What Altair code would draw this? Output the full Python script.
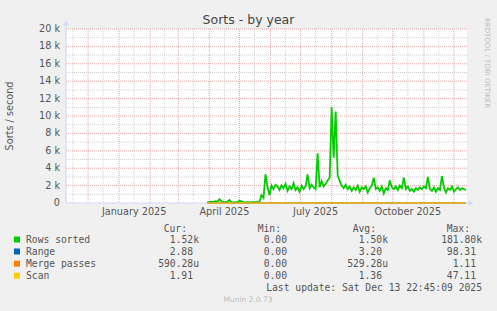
import altair as alt
import pandas as pd

# ---------------- data ----------------
title_text = "Sorts - by year"
y_title = "Sorts / second"
side_text = "RRDTOOL / TOBI OETIKER"
last_update = "Last update: Sat Dec 13 22:45:09 2025"
version_text = "Munin 2.0.73"

rows_start = "2025-03-30"
rows_sorted_k = [
    0.10, 0.12, 0.15, 0.10, 0.20, 0.15, 0.45, 0.20, 0.12, 0.10,
    0.15, 0.35, 0.10, 0.08, 0.10, 0.08, 0.25, 0.20, 0.10, 0.08,
    0.10, 0.08, 0.10, 0.10, 0.10, 0.12, 0.15, 0.90, 0.60, 3.30,
    1.80, 0.90, 2.00, 1.60, 2.10, 1.90, 1.50, 2.00, 1.70, 2.20,
    1.40, 1.90, 1.60, 2.30, 1.50, 1.80, 1.30, 2.00, 1.60, 1.90,
    3.30, 1.70, 2.10, 1.80, 1.60, 5.70, 1.80, 2.50, 1.90, 2.20,
    2.60, 2.90, 11.00, 5.20, 10.50, 3.20, 2.50, 2.00, 1.70, 2.10,
    1.60, 1.90, 1.40, 1.80, 1.50, 2.00, 1.30, 1.80, 1.60, 1.90,
    1.20, 1.70, 2.00, 2.90, 1.60, 1.80, 1.40, 1.90, 1.10, 1.70,
    1.50, 2.60, 1.80, 1.60, 1.90, 1.50, 2.00, 1.70, 2.90, 1.60,
    1.90, 1.40, 1.60, 1.30, 1.70, 1.50, 1.80, 1.60, 1.90, 1.70,
    3.00, 1.60, 1.40, 1.80, 1.30, 1.70, 1.50, 3.10, 1.80, 1.20,
    1.70, 1.50, 1.90, 1.30, 1.60, 1.80, 1.50, 1.70, 1.60, 1.52,
]

small_dates = ["2025-03-30", "2025-05-28", "2025-07-31", "2025-09-30", "2025-12-13"]
range_vals = [0.5, 3.0, 4.0, 3.1, 2.88]
merge_vals = [0.0, 0.0006, 0.0008, 0.0005, 0.00059]
scan_vals = [0.2, 1.5, 2.0, 1.4, 1.91]

y_tick_values = [0, 2000, 4000, 6000, 8000, 10000, 12000, 14000, 16000, 18000, 20000]
y_tick_labels = ["0", "2 k", "4 k", "6 k", "8 k", "10 k", "12 k", "14 k", "16 k", "18 k", "20 k"]
y_minor_values = [1000, 3000, 5000, 7000, 9000, 11000, 13000, 15000, 17000, 19000]

x_label_dates = ["2025-01-16", "2025-04-16", "2025-07-16", "2025-10-16"]
x_labels = ["January 2025", "April 2025", "July 2025", "October 2025"]
month_starts = ["2024-12-01", "2025-01-01", "2025-02-01", "2025-03-01", "2025-04-01",
                "2025-05-01", "2025-06-01", "2025-07-01", "2025-08-01", "2025-09-01",
                "2025-10-01", "2025-11-01", "2025-12-01"]
mid_months = ["2024-11-16", "2024-12-16", "2025-01-16", "2025-02-15", "2025-03-16",
              "2025-04-16", "2025-05-16", "2025-06-16", "2025-07-16", "2025-08-16",
              "2025-09-16", "2025-10-16", "2025-11-16"]

legend_names = ["Rows sorted", "Range", "Merge passes", "Scan"]
legend_colors = ["#00CC00", "#0066B3", "#FF8000", "#FFCC00"]
legend_cur = ["1.52k", "2.88", "590.28u", "1.91"]
legend_min = ["0.00", "0.00", "0.00", "0.00"]
legend_avg = ["1.50k", "3.20", "529.28u", "1.36"]
legend_max = ["181.80k", "98.31", "1.11", "47.11"]
legend_headers = ["Cur:", "Min:", "Avg:", "Max:"]

# ---------------- layout ----------------
W, H = 401, 174
PAD = {"left": 66, "top": 29, "right": 30, "bottom": 108}
FONT = "DejaVu Sans"
MONO = "DejaVu Sans Mono"
TXT = "#555555"
AXIS_C = "#CFD6F8"

x_scale = alt.Scale(
    type="utc",
    domain=[alt.DateTime(year=2024, month=11, date=9, utc=True),
            alt.DateTime(year=2025, month=12, date=14, utc=True)],
)
y_scale = alt.Scale(domain=[0, 20000], nice=False, zero=True)

rows_dates = pd.date_range(rows_start, periods=len(rows_sorted_k), freq="2D").strftime("%Y-%m-%d")
df_rows = pd.DataFrame({"date": rows_dates, "v": [v * 1000 for v in rows_sorted_k]})
df_small = pd.DataFrame({"date": small_dates, "range": range_vals,
                         "merge": merge_vals, "scan": scan_vals})

one = alt.Data(values=[{"k": 0}])

layers = []

# grid
layers.append(alt.Chart(pd.DataFrame({"y": y_minor_values})).mark_rule(
    color="#D0D0D0", strokeDash=[1, 1], strokeWidth=1).encode(
    y=alt.Y("y:Q", scale=y_scale, axis=None), x=alt.value(0), x2=alt.value(W)))
layers.append(alt.Chart(pd.DataFrame({"d": mid_months})).mark_rule(
    color="#D0D0D0", strokeDash=[1, 1], strokeWidth=1).encode(
    x=alt.X("d:T", scale=x_scale, axis=None), y=alt.value(0), y2=alt.value(H)))
layers.append(alt.Chart(pd.DataFrame({"y": y_tick_values[1:]})).mark_rule(
    color="#E3A5A5", strokeDash=[1, 1], strokeWidth=1).encode(
    y=alt.Y("y:Q", scale=y_scale, axis=None), x=alt.value(0), x2=alt.value(W)))
layers.append(alt.Chart(pd.DataFrame({"d": month_starts})).mark_rule(
    color="#E3A5A5", strokeDash=[1, 1], strokeWidth=1).encode(
    x=alt.X("d:T", scale=x_scale, axis=None), y=alt.value(0), y2=alt.value(H)))

# axes lines and arrows
layers.append(alt.Chart(one).mark_rule(color=AXIS_C, strokeWidth=1).encode(
    x=alt.value(0), y=alt.value(-4), y2=alt.value(H)))
layers.append(alt.Chart(one).mark_rule(color=AXIS_C, strokeWidth=1).encode(
    x=alt.value(0), x2=alt.value(W + 3), y=alt.value(H)))
layers.append(alt.Chart(one).mark_point(shape="triangle-up", filled=True, color=AXIS_C,
                                        size=30, opacity=1).encode(
    x=alt.value(0), y=alt.value(-6)))
layers.append(alt.Chart(one).mark_point(shape="triangle-right", filled=True, color=AXIS_C,
                                        size=30, opacity=1).encode(
    x=alt.value(W + 4), y=alt.value(H)))

# data lines
layers.append(alt.Chart(df_rows).mark_line(color=legend_colors[0], strokeWidth=1.8).encode(
    x=alt.X("date:T", scale=x_scale, axis=None),
    y=alt.Y("v:Q", scale=y_scale, axis=None)))
for col, c in [("range", legend_colors[1]), ("merge", legend_colors[2]), ("scan", legend_colors[3])]:
    layers.append(alt.Chart(df_small).mark_line(color=c, strokeWidth=1).encode(
        x=alt.X("date:T", scale=x_scale, axis=None),
        y=alt.Y(f"{col}:Q", scale=y_scale, axis=None)))

# tick labels
layers.append(alt.Chart(pd.DataFrame({"y": y_tick_values, "t": y_tick_labels})).mark_text(
    align="right", baseline="middle", font=FONT, fontSize=9.7, color=TXT).encode(
    y=alt.Y("y:Q", scale=y_scale, axis=None), x=alt.value(-6), text="t:N"))
layers.append(alt.Chart(pd.DataFrame({"d": x_label_dates, "t": x_labels})).mark_text(
    align="center", baseline="middle", font=FONT, fontSize=9.7, color=TXT).encode(
    x=alt.X("d:T", scale=x_scale, axis=None), y=alt.value(H + 9), text="t:N"))


def txt(s, x, y, align="left", font=FONT, size=9.7, color=TXT, angle=0, baseline="middle"):
    kw = dict(align=align, baseline=baseline, font=font, fontSize=size, color=color)
    if angle:
        kw["angle"] = angle
    return alt.Chart(one).mark_text(**kw).encode(
        x=alt.value(x), y=alt.value(y), text=alt.value(s))


# titles
layers.append(txt(title_text, 182.5, -5, align="center", size=12.5, color="#444444",
                  baseline="alphabetic"))
layers.append(txt(y_title, -56, 87, align="center", angle=270))
layers.append(txt(side_text, 421, 34, align="center", size=7, color="#BBBBBB", angle=90))

# legend
col_ends = [133, 227, 322, 416]
layers += [txt(h, e - 12, 199.5, align="right", font=MONO) for h, e in zip(legend_headers, col_ends)]
row_y = [210.5, 222.5, 234.7, 246.7]
for i, name in enumerate(legend_names):
    ry = row_y[i]
    layers.append(alt.Chart(one).mark_rect(color=legend_colors[i]).encode(
        x=alt.value(-52), x2=alt.value(-46), y=alt.value(ry - 3), y2=alt.value(ry + 3)))
    layers.append(txt(name, -40, ry, font=MONO))
    for vals, e in zip([legend_cur, legend_min, legend_avg, legend_max], col_ends):
        s = vals[i]
        end = e if s[-1].isalpha() else e - 6
        layers.append(txt(s, end, ry, align="right", font=MONO))

layers.append(txt(last_update, 416, 258.5, align="right", font=MONO))
layers.append(txt(version_text, 182, 271, align="center", size=7.5, color="#BBBBBB"))

chart = alt.layer(*layers).properties(
    width=W, height=H,
    autosize=alt.AutoSizeParams(type="none"),
    padding=PAD,
).configure(background="#F0F0F0").configure_view(fill="white", strokeWidth=0)

chart.save("out.html", embed_options={"renderer": "svg", "actions": False})
